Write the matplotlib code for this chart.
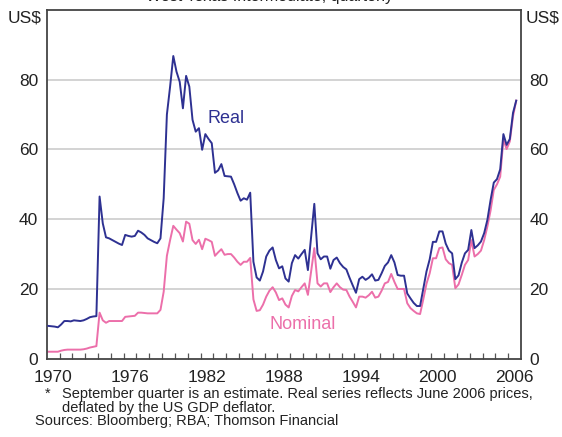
import numpy as np
import matplotlib
matplotlib.use('Agg')
import matplotlib.pyplot as plt
from matplotlib.ticker import FixedLocator, NullFormatter

plt.rcParams['font.family'] = ['Liberation Sans', 'DejaVu Sans']

# Quarterly oil prices (US$ per barrel), 1970 Q1 to 2006 Q3
real = [
    9.4, 9.3, 9.2, 9.0,  # 1970
    9.8, 10.8, 10.8, 10.7,  # 1971
    11.0, 10.9, 10.8, 11.0,  # 1972
    11.4, 11.9, 12.1, 12.2,  # 1973
    46.5, 38.8, 34.8, 34.5,  # 1974
    34.0, 33.5, 33.0, 32.6,  # 1975
    35.5, 35.2, 35.0, 35.2,  # 1976
    36.7, 36.2, 35.5, 34.5,  # 1977
    34.0, 33.5, 33.1, 34.5,  # 1978
    46.0, 70.0, 78.0, 86.8,  # 1979
    82.3, 79.4, 71.8, 81.1,  # 1980
    78.0, 68.5, 65.1, 66.1,  # 1981
    59.9, 64.4, 63.0, 61.8,  # 1982
    53.3, 54.0, 55.8, 52.4,  # 1983
    52.3, 52.2, 50.0, 47.5,  # 1984
    45.3, 46.0, 45.6, 47.6,  # 1985
    27.8, 23.3, 22.4, 25.0,  # 1986
    29.3, 31.0, 31.9, 28.3,  # 1987
    25.9, 26.5, 23.0, 22.1,  # 1988
    27.4, 29.7, 28.7, 30.0,  # 1989
    31.2, 25.4, 35.0, 44.4,  # 1990
    30.2, 28.5, 29.3, 29.3,  # 1991
    25.8, 28.3, 29.0, 27.4,  # 1992
    26.3, 25.6, 23.2, 21.0,  # 1993
    18.9, 22.8, 23.5, 22.6,  # 1994
    23.2, 24.2, 22.4, 22.6,  # 1995
    24.5, 26.6, 27.6, 29.7,  # 1996
    27.6, 24.0, 23.8, 23.8,  # 1997
    18.7, 17.3, 16.0, 15.1,  # 1998
    15.1, 20.0, 25.0, 28.5,  # 1999
    33.5, 33.5, 36.5, 36.5,  # 2000
    33.0, 31.0, 30.2, 22.8,  # 2001
    23.9, 27.5, 30.2, 31.2,  # 2002
    36.9, 31.7, 32.5, 33.6,  # 2003
    36.0, 39.8, 45.5, 50.5,  # 2004
    51.5, 54.3, 64.4, 61.3,  # 2005
    63.0, 70.5, 74.0,  # 2006
]

nominal = [
    2.0, 2.0, 2.0, 2.0,  # 1970
    2.3, 2.5, 2.6, 2.6,  # 1971
    2.6, 2.6, 2.6, 2.7,  # 1972
    2.9, 3.2, 3.4, 3.6,  # 1973
    13.2, 11.0, 10.3, 10.8,  # 1974
    10.8, 10.8, 10.8, 10.8,  # 1975
    12.0, 12.1, 12.2, 12.3,  # 1976
    13.2, 13.2, 13.1, 13.0,  # 1977
    13.0, 13.0, 13.0, 14.0,  # 1978
    19.2, 29.5, 34.0, 38.1,  # 1979
    37.0, 36.0, 33.6, 39.3,  # 1980
    38.7, 34.0, 32.9, 34.1,  # 1981
    31.4, 34.4, 34.0, 33.5,  # 1982
    29.5, 30.5, 31.4, 29.8,  # 1983
    30.0, 30.0, 29.0, 27.8,  # 1984
    26.9, 27.8, 27.8, 28.9,  # 1985
    17.0, 13.7, 13.9, 15.5,  # 1986
    17.8, 19.5, 20.5, 19.0,  # 1987
    16.8, 17.3, 15.5, 14.7,  # 1988
    18.0, 19.7, 19.3, 20.5,  # 1989
    21.6, 18.3, 25.0, 31.7,  # 1990
    21.6, 20.7, 21.6, 21.6,  # 1991
    19.1, 20.5, 21.6, 20.5,  # 1992
    19.8, 19.7, 17.8, 16.3,  # 1993
    14.7, 17.8, 17.8, 17.5,  # 1994
    18.2, 19.2, 17.5, 17.8,  # 1995
    19.5, 21.6, 22.0, 24.3,  # 1996
    22.0, 20.0, 20.0, 20.0,  # 1997
    15.9, 14.5, 13.7, 13.0,  # 1998
    12.8, 17.0, 21.5, 24.5,  # 1999
    28.8, 28.8, 31.7, 31.9,  # 2000
    28.5, 27.4, 26.9, 20.2,  # 2001
    21.3, 24.0, 26.9, 28.3,  # 2002
    34.0, 29.3, 30.0, 31.0,  # 2003
    34.0, 37.9, 42.5, 48.4,  # 2004
    50.0, 52.2, 62.9, 60.1,  # 2005
    62.3, 69.5, 74.0,  # 2006
]

year_labels = [1970, 1976, 1982, 1988, 1994, 2000, 2006]
y_ticks = [0, 20, 40, 60, 80]

# each quarter is plotted at its middle point
quarters = 1970 + (np.arange(len(real)) + 0.5) / 4

real_col = '#2E3192'
nom_col = '#EC6FAA'
txt_col = '#222222'

fig = plt.figure(figsize=(5.62, 4.37), dpi=100)
ax = fig.add_axes([0.0831, 0.1792, 0.844, 0.798])

ax.plot(quarters, real, color=real_col, lw=1.4, zorder=3)
ax.plot(quarters, nominal, color=nom_col, lw=1.4, zorder=2)

ax.set_xlim(1970, 2007)
ax.set_ylim(0, 100)

# horizontal grid lines
for v in y_ticks[1:]:
    ax.axhline(v, color='#CCCCCC', lw=1.2, zorder=1)

# x axis: year ticks inside, labels in the middle of the year
ax.xaxis.set_major_locator(FixedLocator([y + 0.5 for y in year_labels]))
ax.set_xticklabels([str(y) for y in year_labels])
ax.xaxis.set_minor_locator(FixedLocator(np.arange(1971, 2007)))
ax.xaxis.set_minor_formatter(NullFormatter())
ax.tick_params(axis='x', which='major', length=0, pad=8, labelsize=12.5, colors=txt_col)
ax.tick_params(axis='x', which='minor', length=4, direction='in', width=0.9, color='#555555')

# y axis labels on both sides, no tick marks
ax.set_yticks(y_ticks)
ax.tick_params(axis='y', length=0, labelsize=12.5, pad=6, labelright=True, labelleft=True,
               colors=txt_col)

for s in ax.spines.values():
    s.set_color('#444444')
    s.set_linewidth(1.3)

# series names
ax.text(1984.0, 69.0, 'Real', color=real_col, fontsize=13, ha='center', va='center')
ax.text(1989.95, 9.7, 'Nominal', color=nom_col, fontsize=13, ha='center', va='center')

# units
fig.text(25 / 562, 1 - 18 / 437, 'US$', fontsize=12.5, ha='center', va='center', color=txt_col)
fig.text(543 / 562, 1 - 18 / 437, 'US$', fontsize=12.5, ha='center', va='center', color=txt_col)

# title, mostly cut off by the top edge as in the original picture
fig.text(270 / 562, 1 - 1 / 437, 'West Texas Intermediate, quarterly', fontsize=11.5,
         ha='center', va='baseline', color=txt_col)

# notes
fig.text(45 / 562, 1 - 394 / 437, '*', fontsize=10.5, ha='left', va='center', color=txt_col)
fig.text(62 / 562, 1 - 394 / 437,
         'September quarter is an estimate. Real series reflects June 2006 prices,',
         fontsize=10.5, ha='left', va='center', color=txt_col)
fig.text(62 / 562, 1 - 408 / 437, 'deflated by the US GDP deflator.',
         fontsize=10.5, ha='left', va='center', color=txt_col)
fig.text(35 / 562, 1 - 421 / 437, 'Sources: Bloomberg; RBA; Thomson Financial',
         fontsize=10.5, ha='left', va='center', color=txt_col)

fig.savefig('out.png', dpi=100)
